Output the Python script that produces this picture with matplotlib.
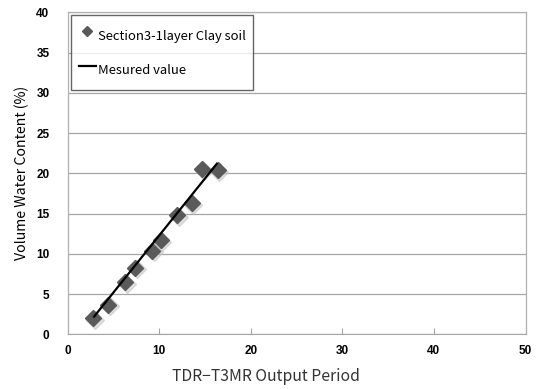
import matplotlib.pyplot as plt
import numpy as np

# Calibration points (TDR output period vs. volumetric water content)
period = [2.8, 4.45, 6.3, 7.4, 9.25, 10.2, 12.0, 13.6, 14.7, 16.4]
water = [2.0, 3.7, 6.5, 8.3, 10.4, 11.7, 14.8, 16.3, 20.5, 20.4]

# Measured-value line
line_x = [2.9, 16.3]
line_y = [2.2, 21.2]

plt.rcParams['font.family'] = ['Noto Sans CJK KR', 'DejaVu Sans']

fig = plt.figure(figsize=(5.41, 3.89), dpi=100)
ax = fig.add_axes([0.1248, 0.1406, 0.8466, 0.8275])

ax.set_xlim(0, 50)
ax.set_ylim(0, 40)
ax.set_xticks(np.arange(0, 51, 10))
ax.set_yticks(np.arange(0, 41, 5))
ax.yaxis.grid(True, color='#a6a6a6', linewidth=0.9)
ax.set_axisbelow(True)

for side in ['left', 'top', 'right']:
    ax.spines[side].set_color('#b0b0b0')
    ax.spines[side].set_linewidth(0.9)
ax.spines['bottom'].set_color('#a6a6a6')

ax.tick_params(axis='x', direction='in', length=4, color='#a6a6a6', pad=8)
ax.tick_params(axis='y', length=0, pad=13)
for lab in ax.get_xticklabels() + ax.get_yticklabels():
    lab.set_fontweight('bold')
    lab.set_fontsize(8.5)
    lab.set_family(['Liberation Sans', 'DejaVu Sans'])

# Soft shadow under the markers
ax.plot(np.array(period) + 0.15, np.array(water) - 0.2, 'D', color='#c0c0c0',
        markersize=9, linestyle='none', alpha=0.5, zorder=2)
ax.plot(period, water, 'D', color='#5a5a5a', markersize=7.8, linestyle='none',
        label='Section3-1layer Clay soil', zorder=3)
ax.plot(line_x, line_y, color='black', linewidth=1.6, label='Mesured value', zorder=4)

leg = ax.legend(loc='upper left', bbox_to_anchor=(0.0, 1.003), fontsize=9.4,
                frameon=True, fancybox=False, edgecolor='#404040',
                borderpad=0.55, labelspacing=0.65, handlelength=1.3,
                handleheight=2.7, handletextpad=0.15, markerscale=0.6,
                borderaxespad=0.3)
leg.get_frame().set_linewidth(1.0)

ax.set_ylabel('Volume Water Content (%)', fontsize=10.2, labelpad=5)
ax.set_xlabel('TDR\u2212T3MR Output Period', fontsize=11.3, color='#333333')
ax.xaxis.set_label_coords(0.433, -0.105)

fig.savefig('out.png', dpi=100)
